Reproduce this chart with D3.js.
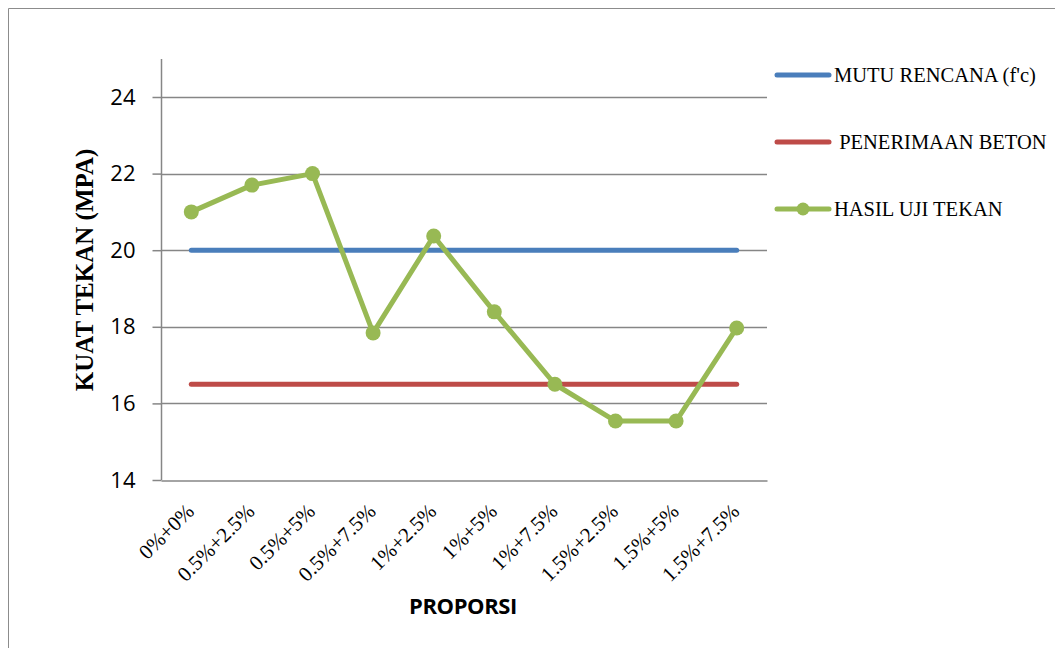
<!DOCTYPE html>
<html>
<head>
<meta charset="utf-8">
<script src="https://cdn.jsdelivr.net/npm/d3@7"></script>
<style>
  body { margin: 0; background: #fff; }
  svg { display: block; }
</style>
</head>
<body>
<svg id="chart" width="1055" height="648"></svg>
<script>
// data
var categories = ["0%+0%", "0.5%+2.5%", "0.5%+5%", "0.5%+7.5%", "1%+2.5%",
                  "1%+5%", "1%+7.5%", "1.5%+2.5%", "1.5%+5%", "1.5%+7.5%"];
var mutuRencana = [20, 20, 20, 20, 20, 20, 20, 20, 20, 20];
var penerimaanBeton = [16.5, 16.5, 16.5, 16.5, 16.5, 16.5, 16.5, 16.5, 16.5, 16.5];
var hasilUjiTekan = [21.0, 21.7, 22.0, 17.84, 20.37, 18.39, 16.5, 15.54, 15.54, 17.97];
var yTicks = [14, 16, 18, 20, 22, 24];
var seriesNames = ["MUTU RENCANA (f'c)", " PENERIMAAN BETON", "HASIL UJI TEKAN"];

var svg = d3.select("#chart");

// outer frame
svg.append("path")
   .attr("d", "M8.5,660 L8.5,8.5 L1070,8.5")
   .attr("fill", "none")
   .attr("stroke", "#8c8c8c")
   .attr("stroke-width", 1);

var plot = { left: 161, right: 767, top: 59, bottom: 480 };

var x = d3.scaleBand()
          .domain(categories)
          .range([plot.left, plot.right]);

var y = d3.scaleLinear()
          .domain([14, 25])
          .range([plot.bottom, plot.bottom - 11 * 38.3]);

// gridlines
svg.append("g")
   .selectAll("line")
   .data(yTicks.slice(1))
   .enter().append("line")
   .attr("x1", plot.left)
   .attr("x2", plot.right)
   .attr("y1", function (d) { return Math.round(y(d)) + 0.5; })
   .attr("y2", function (d) { return Math.round(y(d)) + 0.5; })
   .attr("stroke", "#868686")
   .attr("stroke-width", 1.5);

// y axis
var yAxis = svg.append("g")
   .attr("transform", "translate(" + (plot.left + 0.5) + ",0)")
   .call(d3.axisLeft(y).tickValues(yTicks).tickSize(9).tickPadding(17).tickSizeOuter(0));
yAxis.select(".domain").attr("stroke", "#868686").attr("stroke-width", 1.5)
     .attr("d", "M0," + plot.top + "V" + plot.bottom);
yAxis.selectAll(".tick line").attr("stroke", "#868686").attr("stroke-width", 1.5);
yAxis.selectAll(".tick text")
     .attr("font-family", "'Open Sans', sans-serif")
     .attr("font-size", 22)
     .attr("fill", "#000");

// x axis
var xAxis = svg.append("g")
   .attr("transform", "translate(0," + (plot.bottom + 0.5) + ")")
   .call(d3.axisBottom(x).tickSize(0).tickSizeOuter(0).tickPadding(0));
xAxis.select(".domain").attr("stroke", "#868686").attr("stroke-width", 1.5);
xAxis.selectAll(".tick text")
     .attr("font-family", "'Liberation Serif', 'Times New Roman', serif")
     .attr("font-size", 21)
     .attr("fill", "#000")
     .attr("text-anchor", "end")
     .attr("dy", "0")
     .attr("transform", "translate(4,32) rotate(-45)");

// series
var cx = function (d, i) { return x(categories[i]) + x.bandwidth() / 2; };
var line = d3.line()
             .x(cx)
             .y(function (d) { return y(d); });

var flat = [
  { values: mutuRencana, color: "#4A7EBB" },
  { values: penerimaanBeton, color: "#BE4B48" }
];
flat.forEach(function (s) {
  svg.append("path")
     .datum(s.values)
     .attr("d", line)
     .attr("fill", "none")
     .attr("stroke", s.color)
     .attr("stroke-width", 5)
     .attr("stroke-linecap", "round");
});

var green = "#98B954";
svg.append("path")
   .datum(hasilUjiTekan)
   .attr("d", line)
   .attr("fill", "none")
   .attr("stroke", green)
   .attr("stroke-width", 5)
   .attr("stroke-linejoin", "round");

svg.append("g")
   .selectAll("circle")
   .data(hasilUjiTekan)
   .enter().append("circle")
   .attr("cx", cx)
   .attr("cy", function (d) { return y(d); })
   .attr("r", 7.5)
   .attr("fill", green);

// legend
var legendColors = ["#4A7EBB", "#BE4B48", green];
var legend = svg.append("g");
seriesNames.forEach(function (name, i) {
  var ly = 75 + i * 67;
  legend.append("line")
        .attr("x1", 777).attr("x2", 829)
        .attr("y1", ly).attr("y2", ly)
        .attr("stroke", legendColors[i])
        .attr("stroke-width", 5)
        .attr("stroke-linecap", "round");
  if (i === 2) {
    legend.append("circle")
          .attr("cx", 803).attr("cy", ly).attr("r", 6.5)
          .attr("fill", green);
  }
  legend.append("text")
        .attr("x", 834)
        .attr("y", ly + 7)
        .attr("font-family", "'Liberation Serif', 'Times New Roman', serif")
        .attr("font-size", 20.5)
        .attr("fill", "#000")
        .attr("xml:space", "preserve")
        .style("white-space", "pre")
        .text(name);
});

// axis titles
svg.append("text")
   .attr("transform", "translate(93,270) rotate(-90)")
   .attr("text-anchor", "middle")
   .attr("font-family", "'Liberation Serif', 'Times New Roman', serif")
   .attr("font-weight", "bold")
   .attr("font-size", 25)
   .attr("fill", "#000")
   .text("KUAT TEKAN (MPA)");

svg.append("text")
   .attr("x", 463)
   .attr("y", 614)
   .attr("text-anchor", "middle")
   .attr("font-family", "'Open Sans', sans-serif")
   .attr("font-weight", "bold")
   .attr("font-size", 22)
   .attr("letter-spacing", -0.4)
   .attr("fill", "#000")
   .text("PROPORSI");
</script>
</body>
</html>
